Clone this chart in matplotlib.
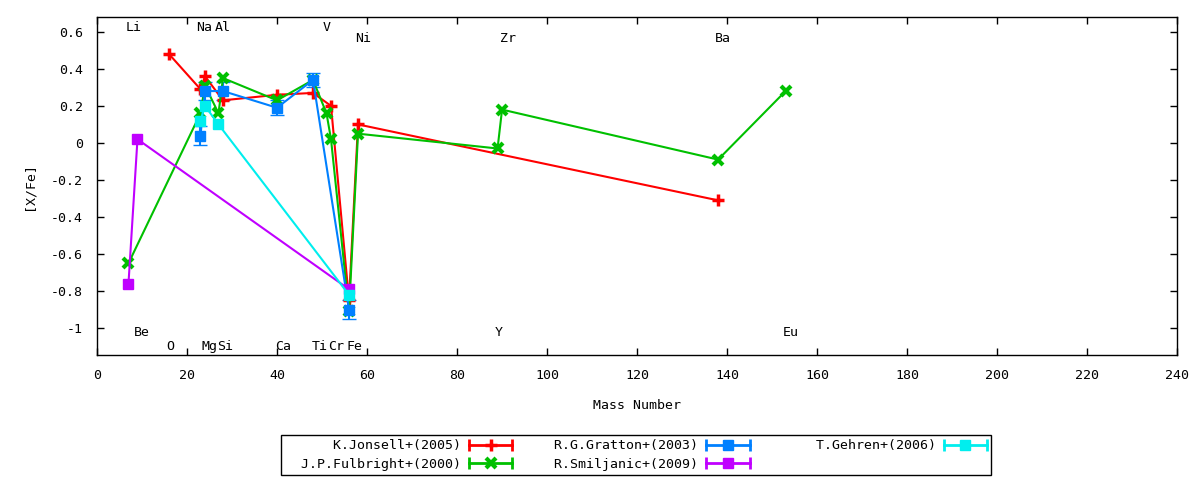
import numpy as np
import matplotlib
matplotlib.use("Agg")
import matplotlib.pyplot as plt
from matplotlib.lines import Line2D
from matplotlib.legend_handler import HandlerLine2D
from matplotlib.ticker import FuncFormatter, MultipleLocator

plt.rcParams['font.family'] = ['DejaVu Sans Mono']
plt.rcParams['axes.unicode_minus'] = False

# element abundances vs mass number, one list pair per paper
jonsell_x = [16, 23, 24, 28, 40, 48, 52, 56, 58, 138]
jonsell_y = [0.48, 0.29, 0.36, 0.23, 0.26, 0.27, 0.20, -0.85, 0.10, -0.31]

fulbright_x = [7, 23, 24, 27, 28, 40, 48, 51, 52, 56, 58, 89, 90, 138, 153]
fulbright_y = [-0.65, 0.16, 0.31, 0.16, 0.35, 0.23, 0.34, 0.16, 0.02, -0.91,
               0.05, -0.03, 0.18, -0.09, 0.28]

gratton_x = [23, 24, 28, 40, 48, 56]
gratton_y = [0.04, 0.28, 0.28, 0.19, 0.34, -0.90]
gratton_err = [0.05, 0.05, 0.05, 0.04, 0.04, 0.05]

smiljanic_x = [7, 9, 56]
smiljanic_y = [-0.76, 0.02, -0.79]

gehren_x = [23, 24, 27, 56]
gehren_y = [0.12, 0.20, 0.10, -0.82]

# element name labels along the top and bottom of the plot
label_names = ['Li', 'Na', 'Al', 'V', 'Ni', 'Zr', 'Ba',
               'Be', 'Y', 'Eu', 'O', 'Mg', 'Si', 'Ca', 'Ti', 'Cr', 'Fe']
label_x = [6.4, 22.1, 26.2, 50.2, 57.3, 89.6, 137.3,
           8.3, 88.4, 152.4, 15.5, 23.2, 26.6, 39.6, 47.7, 51.4, 55.5]
label_y = [0.603, 0.603, 0.603, 0.603, 0.546, 0.546, 0.546,
           -1.04, -1.04, -1.04, -1.117, -1.117, -1.117, -1.117, -1.117, -1.117, -1.117]

series = [
    ("K.Jonsell+(2005)", jonsell_x, jonsell_y, None, '#ff0000', '+', 9, 2.5),
    ("J.P.Fulbright+(2000)", fulbright_x, fulbright_y, None, '#00c000', 'x', 7, 3),
    ("R.G.Gratton+(2003)", gratton_x, gratton_y, gratton_err, '#0080ff', 's', 7, 1),
    ("R.Smiljanic+(2009)", smiljanic_x, smiljanic_y, None, '#c000ff', 's', 7, 1),
    ("T.Gehren+(2006)", gehren_x, gehren_y, None, '#00eeee', 's', 7, 1),
]

fig = plt.figure(figsize=(12, 4.8), dpi=100)
ax = fig.add_axes([0.0808, 0.2604, 0.9002, 0.7042])

handles = []
labels = []
hmap = {}
for name, xs, ys, err, col, mk, ms, mew in series:
    ax.errorbar(xs, ys, yerr=err, color=col, lw=1.5, marker=mk, ms=ms, mew=mew,
                capsize=5, capthick=1.5, elinewidth=1.5)
    # gnuplot style key sample: line with end caps and marker in the middle
    cap = Line2D([], [], color=col, lw=2, marker='|', ms=9, mew=2)
    mid = Line2D([], [], color=col, ls='none', marker=mk, ms=ms, mew=mew)
    hmap[cap] = HandlerLine2D(numpoints=2, marker_pad=0)
    hmap[mid] = HandlerLine2D(numpoints=1)
    handles.append((cap, mid))
    # gnuplot key columns all have the same width
    labels.append(name.rjust(22))

for name, x, y in zip(label_names, label_x, label_y):
    ax.text(x, y, name, ha='left', va='baseline', fontsize=9.5)

ax.set_xlim(0, 240)
ax.set_ylim(-1.145, 0.68)
ax.xaxis.set_major_locator(MultipleLocator(20))
ax.set_yticks(np.arange(-1, 0.61, 0.2))
ax.yaxis.set_major_formatter(FuncFormatter(lambda v, p: f"{round(v, 1) + 0.0:g}"))
ax.tick_params(direction='in', top=True, right=True, length=5, width=1,
               labelsize=9.5, pad=10)
for s in ax.spines.values():
    s.set_linewidth(1)

ax.set_xlabel("Mass Number", fontsize=9.5, labelpad=12)
ax.set_ylabel("[X/Fe]", fontsize=9.5, labelpad=11)

leg = fig.legend(handles, labels, handler_map=hmap, loc='center',
                 bbox_to_anchor=(0.53, 0.052), ncol=3, markerfirst=False,
                 fontsize=9.5, frameon=True, fancybox=False, framealpha=1,
                 edgecolor='black', handlelength=3.3, handletextpad=0.6,
                 columnspacing=0.75, labelspacing=0.4, borderpad=0.3)
leg.get_frame().set_linewidth(1)

fig.savefig("out.png", dpi=100)
